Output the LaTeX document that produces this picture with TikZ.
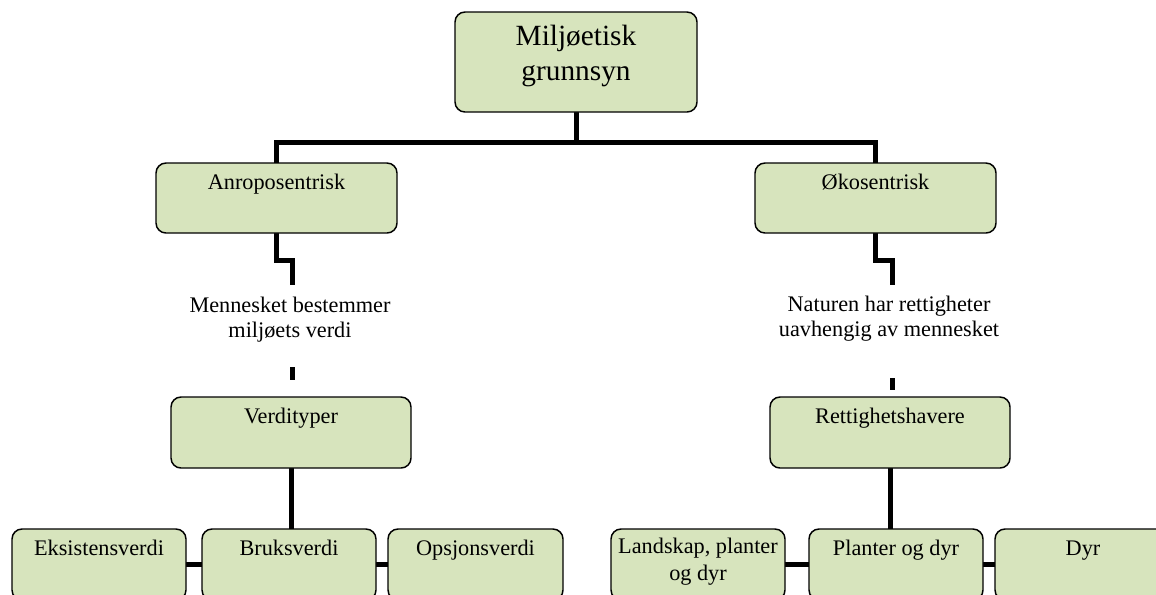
\documentclass[tikz,border=0pt]{standalone}
\usepackage{fontspec}
\setmainfont{Liberation Serif}
\usetikzlibrary{backgrounds}
\definecolor{boxgreen}{HTML}{D7E4BD}
\tikzset{
  gbox/.style={draw=black, line width=1.1pt, fill=boxgreen, rounded corners=7.5pt, inner sep=0pt, outer sep=0pt},
  lbl/.style={anchor=base, align=center, inner sep=0pt, font=\fontsize{16.7}{20.25}\selectfont},
  midtxt/.style={anchor=base, align=center, inner sep=0pt, font=\fontsize{16.7}{18.75}\selectfont},
  conn/.style={draw=black, line width=3.75pt}
}
\newcommand\gboxnode[6]{%
  \node[gbox, minimum width={(#4-#2)*0.75pt}, minimum height={(#5-#3)*0.75pt}] (#1) at ({(#2+#4)/2},{(#3+#5)/2}) {};
  \node[lbl] (#1-t) at ([yshift={-26*0.75pt}]#1.north) {#6};
}
\begin{document}
\begin{tikzpicture}[x=0.75pt,y=-0.75pt]
\useasboundingbox (0,0) rectangle (1156,594);
\clip (0,0) rectangle (1156,594);
\coordinate (hub) at (576,142);
\coordinate (antzz) at (292,260);
\coordinate (mbtop) at (292,285);
\coordinate (mbb1) at (292,367);
\coordinate (mbb2) at (292,380);
\coordinate (okozz) at (892,260);
\coordinate (nhtop) at (892,285);
\coordinate (nhb1) at (892,378);
\coordinate (nhb2) at (892,390);
% boxes
\node[gbox, minimum width={242*0.75pt}, minimum height={100*0.75pt}] (top) at (576,62) {};
\node[anchor=base, align=center, inner sep=0pt, font=\fontsize{22}{26.25}\selectfont] (top-t) at (576,80) {Miljøetisk\\grunnsyn};
\gboxnode{ant}{156}{163}{397}{233}{Anroposentrisk}
\gboxnode{oko}{755}{163}{996}{233}{Økosentrisk}
\gboxnode{vt}{171}{397}{411}{468}{Verdityper}
\gboxnode{ret}{770}{397}{1010}{468}{Rettighetshavere}
\gboxnode{eks}{12}{529}{186}{600}{Eksistensverdi}
\gboxnode{brk}{202}{529}{376}{600}{Bruksverdi}
\gboxnode{ops}{388}{529}{563}{600}{Opsjonsverdi}
\node[gbox, minimum width={174*0.75pt}, minimum height={71*0.75pt}] (land) at (698,564.5) {};
\node[lbl] (land-t) at (698,580) {Landskap, planter\\og dyr};
\gboxnode{pod}{809}{529}{983}{600}{Planter og dyr}
\gboxnode{dyr}{995}{529}{1171}{600}{Dyr}
% middle texts
\node[midtxt] (mb) at (290,337) {Mennesket bestemmer\\miljøets verdi};
\node[midtxt] (nh) at (889,336) {Naturen har rettigheter\\uavhengig av mennesket};
% connectors
\begin{pgfonlayer}{background}
\draw[conn] (top.south) -- (hub);
\draw[conn] (ant.north) |- (hub) -| (oko.north);
\draw[conn] (ant.south) |- (antzz) -- (mbtop);
\draw[conn] (mbb1) -- (mbb2);
\draw[conn] (oko.south) |- (okozz) -- (nhtop);
\draw[conn] (nhb1) -- (nhb2);
\draw[conn] (vt.south) -- (vt.south |- brk.north);
\draw[conn] (ret.south) -- (ret.south |- pod.north);
\draw[conn] (eks.east) -- (brk.west);
\draw[conn] (brk.east) -- (ops.west);
\draw[conn] (land.east) -- (pod.west);
\draw[conn] (pod.east) -- (dyr.west);
\end{pgfonlayer}
\end{tikzpicture}
\end{document}
